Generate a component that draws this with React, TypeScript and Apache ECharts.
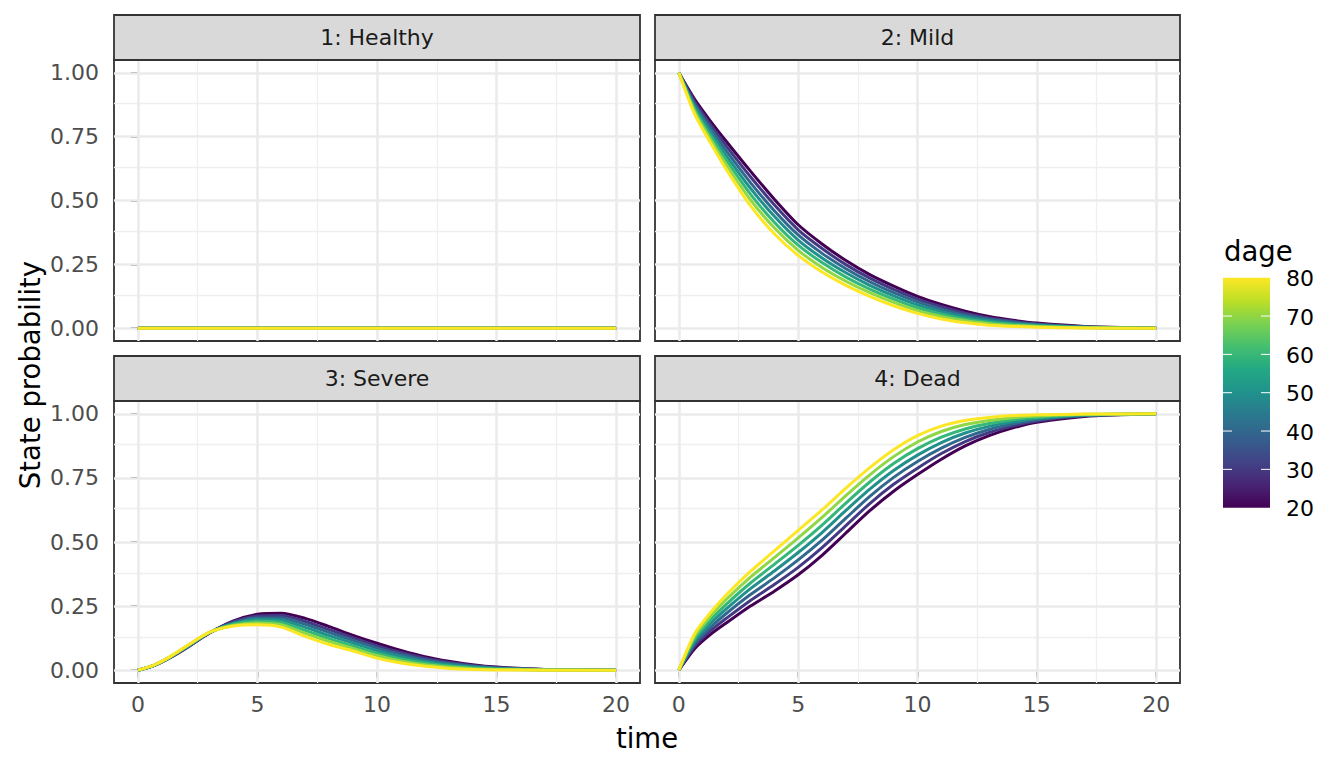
import React, { useEffect, useRef } from "react";
import * as echarts from "echarts";

const TIMES = [0, 0.67, 1.33, 2, 3, 4, 5, 6, 7, 8, 9, 10, 11, 12, 13, 14, 15, 17, 20];
const DAGE = [20, 30, 40, 50, 60, 70, 80];
const DAGE_COLORS = ["#440154", "#443A83", "#31688E", "#21908C", "#35B779", "#8FD744", "#FDE725"];
const STATES = ["1: Healthy", "2: Mild", "3: Severe", "4: Dead"];
const X_TICKS = [0, 5, 10, 15, 20];
const X_MINOR = [2.5, 7.5, 12.5, 17.5];
const Y_TICKS = [0, 0.25, 0.5, 0.75, 1];
const Y_MINOR = [0.125, 0.375, 0.625, 0.875];
const LEGEND_TICKS = [20, 30, 40, 50, 60, 70, 80];

const HEALTHY_ALL = [0, 0, 0, 0, 0, 0, 0, 0, 0, 0, 0, 0, 0, 0, 0, 0, 0, 0, 0];

const MILD_20 = [1, 0.895, 0.810, 0.730, 0.615, 0.505, 0.405, 0.330, 0.265, 0.210, 0.165, 0.125, 0.093, 0.067, 0.046, 0.031, 0.020, 0.007, 0];
const MILD_30 = [1, 0.885, 0.796, 0.712, 0.593, 0.483, 0.385, 0.312, 0.249, 0.196, 0.152, 0.114, 0.084, 0.059, 0.040, 0.027, 0.017, 0.006, 0];
const MILD_40 = [1, 0.875, 0.782, 0.693, 0.570, 0.460, 0.365, 0.293, 0.233, 0.182, 0.139, 0.103, 0.074, 0.052, 0.035, 0.023, 0.015, 0.005, 0];
const MILD_50 = [1, 0.866, 0.768, 0.675, 0.548, 0.438, 0.345, 0.275, 0.217, 0.168, 0.127, 0.092, 0.065, 0.044, 0.029, 0.019, 0.012, 0.004, 0];
const MILD_60 = [1, 0.856, 0.753, 0.657, 0.525, 0.415, 0.325, 0.257, 0.200, 0.153, 0.114, 0.080, 0.055, 0.036, 0.023, 0.015, 0.009, 0.003, 0];
const MILD_70 = [1, 0.846, 0.739, 0.638, 0.503, 0.393, 0.305, 0.238, 0.184, 0.139, 0.101, 0.069, 0.046, 0.029, 0.018, 0.011, 0.007, 0.002, 0];
const MILD_80 = [1, 0.836, 0.725, 0.620, 0.480, 0.370, 0.285, 0.220, 0.168, 0.125, 0.088, 0.058, 0.036, 0.021, 0.012, 0.007, 0.004, 0.001, 0];

const SEVERE_20 = [0, 0.018, 0.048, 0.085, 0.145, 0.192, 0.218, 0.222, 0.202, 0.170, 0.136, 0.105, 0.077, 0.053, 0.035, 0.021, 0.012, 0.003, 0];
const SEVERE_30 = [0, 0.018, 0.049, 0.086, 0.146, 0.189, 0.211, 0.213, 0.190, 0.158, 0.126, 0.095, 0.069, 0.047, 0.030, 0.018, 0.010, 0.003, 0];
const SEVERE_40 = [0, 0.019, 0.049, 0.087, 0.146, 0.185, 0.204, 0.204, 0.179, 0.147, 0.116, 0.086, 0.061, 0.040, 0.026, 0.015, 0.008, 0.002, 0];
const SEVERE_50 = [0, 0.019, 0.050, 0.089, 0.147, 0.182, 0.198, 0.195, 0.167, 0.135, 0.106, 0.076, 0.053, 0.034, 0.021, 0.012, 0.007, 0.002, 0];
const SEVERE_60 = [0, 0.019, 0.051, 0.090, 0.147, 0.179, 0.191, 0.186, 0.155, 0.123, 0.095, 0.066, 0.044, 0.028, 0.016, 0.009, 0.005, 0.001, 0];
const SEVERE_70 = [0, 0.020, 0.051, 0.091, 0.148, 0.175, 0.184, 0.177, 0.144, 0.112, 0.085, 0.057, 0.036, 0.021, 0.012, 0.006, 0.003, 0.001, 0];
const SEVERE_80 = [0, 0.020, 0.052, 0.092, 0.148, 0.172, 0.177, 0.168, 0.132, 0.100, 0.075, 0.047, 0.028, 0.015, 0.007, 0.003, 0.001, 0, 0];

const DEAD_20 = [0, 0.085, 0.140, 0.185, 0.250, 0.308, 0.372, 0.448, 0.535, 0.622, 0.698, 0.763, 0.823, 0.875, 0.915, 0.945, 0.967, 0.990, 1];
const DEAD_30 = [0, 0.095, 0.154, 0.203, 0.272, 0.334, 0.401, 0.478, 0.564, 0.650, 0.725, 0.788, 0.845, 0.892, 0.927, 0.953, 0.972, 0.992, 1];
const DEAD_40 = [0, 0.105, 0.168, 0.222, 0.295, 0.360, 0.430, 0.507, 0.593, 0.678, 0.752, 0.814, 0.866, 0.908, 0.939, 0.961, 0.977, 0.993, 1];
const DEAD_50 = [0, 0.115, 0.183, 0.240, 0.318, 0.387, 0.459, 0.537, 0.623, 0.706, 0.779, 0.839, 0.888, 0.925, 0.951, 0.969, 0.982, 0.995, 1];
const DEAD_60 = [0, 0.124, 0.197, 0.258, 0.340, 0.413, 0.487, 0.566, 0.652, 0.734, 0.806, 0.864, 0.909, 0.941, 0.962, 0.977, 0.986, 0.996, 1];
const DEAD_70 = [0, 0.134, 0.211, 0.277, 0.363, 0.439, 0.516, 0.596, 0.681, 0.762, 0.833, 0.890, 0.931, 0.958, 0.974, 0.985, 0.991, 0.998, 1];
const DEAD_80 = [0, 0.144, 0.225, 0.295, 0.385, 0.465, 0.545, 0.625, 0.710, 0.790, 0.860, 0.915, 0.952, 0.974, 0.986, 0.993, 0.996, 0.999, 1];

const PANEL_DATA = [
  [HEALTHY_ALL, HEALTHY_ALL, HEALTHY_ALL, HEALTHY_ALL, HEALTHY_ALL, HEALTHY_ALL, HEALTHY_ALL],
  [MILD_20, MILD_30, MILD_40, MILD_50, MILD_60, MILD_70, MILD_80],
  [SEVERE_20, SEVERE_30, SEVERE_40, SEVERE_50, SEVERE_60, SEVERE_70, SEVERE_80],
  [DEAD_20, DEAD_30, DEAD_40, DEAD_50, DEAD_60, DEAD_70, DEAD_80],
];

const FONT = '"DejaVu Sans", "Liberation Sans", sans-serif';

const GRIDS = [
  { left: 114, top: 60, width: 526, height: 281 },
  { left: 655, top: 60, width: 525, height: 281 },
  { left: 114, top: 401, width: 526, height: 282 },
  { left: 655, top: 401, width: 525, height: 282 },
];

function txt(text: string, x: number, y: number, size: number, fill: string, align: string, extra: any = {}) {
  return {
    type: "text",
    x,
    y,
    z: 20,
    silent: true,
    ...extra,
    style: {
      text,
      fill,
      font: `${size}px ${FONT}`,
      textAlign: align,
      align,
      textVerticalAlign: "middle",
      verticalAlign: "middle",
    },
  };
}

export default function App() {
  const ref = useRef<HTMLDivElement>(null);

  useEffect(() => {
    if (!ref.current) return;
    const chart = echarts.init(ref.current, undefined, { renderer: "svg" });

    const grid = GRIDS.map((g) => ({
      ...g,
      show: true,
      backgroundColor: "#FFFFFF",
      borderColor: "#333333",
      borderWidth: 1.8,
      containLabel: false,
    }));

    const xAxis = GRIDS.map((_, i) => ({
      gridIndex: i,
      type: "value",
      min: -1,
      max: 21,
      axisLine: { show: false },
      splitLine: { show: false },
      axisTick: {
        show: i >= 2,
        customValues: X_TICKS,
        length: 7,
        lineStyle: { color: "#333333", width: 1.8 },
      },
      axisLabel: {
        show: i >= 2,
        customValues: X_TICKS,
        margin: 10,
        color: "#4D4D4D",
        fontSize: 22,
        fontFamily: FONT,
      },
    }));

    const yAxis = GRIDS.map((_, i) => ({
      gridIndex: i,
      type: "value",
      min: -0.05,
      max: 1.05,
      axisLine: { show: false },
      splitLine: { show: false },
      axisTick: {
        show: i % 2 === 0,
        customValues: Y_TICKS,
        length: 7,
        lineStyle: { color: "#333333", width: 1.8 },
      },
      axisLabel: {
        show: i % 2 === 0,
        customValues: Y_TICKS,
        margin: 15,
        color: "#4D4D4D",
        fontSize: 22,
        fontFamily: FONT,
        formatter: (v: number) => v.toFixed(2),
      },
    }));

    const series: any[] = [];
    GRIDS.forEach((_, gi) => {
      series.push({
        type: "line",
        xAxisIndex: gi,
        yAxisIndex: gi,
        data: [],
        silent: true,
        z: 1,
        markLine: {
          z: 1,
          silent: true,
          symbol: ["none", "none"],
          label: { show: false },
          emphasis: { disabled: true },
          lineStyle: { color: "#EBEBEB", type: "solid", width: 2.4 },
          data: [
            ...X_MINOR.map((v) => ({ xAxis: v, lineStyle: { color: "#EFEFEF", type: "solid", width: 1.3 } })),
            ...Y_MINOR.map((v) => ({ yAxis: v, lineStyle: { color: "#EFEFEF", type: "solid", width: 1.3 } })),
            ...X_TICKS.map((v) => ({ xAxis: v, lineStyle: { color: "#EBEBEB", type: "solid", width: 2.6 } })),
            ...Y_TICKS.map((v) => ({ yAxis: v, lineStyle: { color: "#EBEBEB", type: "solid", width: 2.6 } })),
          ],
        },
      });
    });

    PANEL_DATA.forEach((panel, pi) => {
      panel.forEach((vals, k) => {
        series.push({
          type: "line",
          name: `${STATES[pi]} dage ${DAGE[k]}`,
          xAxisIndex: pi,
          yAxisIndex: pi,
          data: TIMES.map((t, i) => [t, vals[i]]),
          showSymbol: false,
          symbol: "none",
          silent: true,
          z: 3,
          smooth: 0.25,
          lineStyle: { color: DAGE_COLORS[k], width: 3, join: "round", cap: "butt" },
          itemStyle: { color: DAGE_COLORS[k] },
        });
      });
    });

    const graphics: any[] = [];
    GRIDS.forEach((g, i) => {
      graphics.push({
        type: "rect",
        z: 10,
        silent: true,
        shape: { x: g.left, y: g.top - 45, width: g.width, height: 45 },
        style: { fill: "#D9D9D9", stroke: "#333333", lineWidth: 1.8 },
      });
      graphics.push(txt(STATES[i], g.left + g.width / 2, g.top - 22.5, 22, "#1A1A1A", "center"));
    });

    graphics.push(txt("time", 647, 738, 27.5, "#000000", "center"));
    graphics.push(txt("State probability", 30, 375, 27.5, "#000000", "center", { rotation: Math.PI / 2 }));

    // colour bar legend
    const barX = 1223;
    const barW = 47;
    const barTop = 277.7;
    const barBottom = 507.7;
    const yOf = (v: number) => barBottom - ((v - 20) / 60) * (barBottom - barTop);
    graphics.push(txt("dage", 1224, 251, 27.5, "#000000", "left"));
    graphics.push({
      type: "rect",
      z: 10,
      silent: true,
      shape: { x: barX, y: barTop, width: barW, height: barBottom - barTop },
      style: {
        fill: new echarts.graphic.LinearGradient(0, 1, 0, 0, [
          { offset: 0, color: "#440154" },
          { offset: 0.1, color: "#482475" },
          { offset: 0.2, color: "#414487" },
          { offset: 0.3, color: "#355F8D" },
          { offset: 0.4, color: "#2A788E" },
          { offset: 0.5, color: "#21918C" },
          { offset: 0.6, color: "#22A884" },
          { offset: 0.7, color: "#44BF70" },
          { offset: 0.8, color: "#7AD151" },
          { offset: 0.9, color: "#BDDF26" },
          { offset: 1, color: "#FDE725" },
        ]),
      },
    });
    LEGEND_TICKS.forEach((v) => {
      const y = yOf(v);
      if (v !== 20 && v !== 80) {
        graphics.push({
          type: "line",
          z: 11,
          silent: true,
          shape: { x1: barX, y1: y, x2: barX + 9, y2: y },
          style: { stroke: "#FFFFFF", lineWidth: 1 },
        });
        graphics.push({
          type: "line",
          z: 11,
          silent: true,
          shape: { x1: barX + barW - 9, y1: y, x2: barX + barW, y2: y },
          style: { stroke: "#FFFFFF", lineWidth: 1 },
        });
      }
      graphics.push(txt(String(v), 1286, y + 1, 22, "#000000", "left"));
    });

    chart.setOption({
      animation: false,
      backgroundColor: "#FFFFFF",
      grid,
      xAxis,
      yAxis,
      series,
      graphic: { elements: graphics },
    });

    return () => {
      chart.dispose();
    };
  }, []);

  return (
    <div
      ref={ref}
      style={{ position: "fixed", left: 0, top: 0, width: 1344, height: 768 }}
    />
  );
}
